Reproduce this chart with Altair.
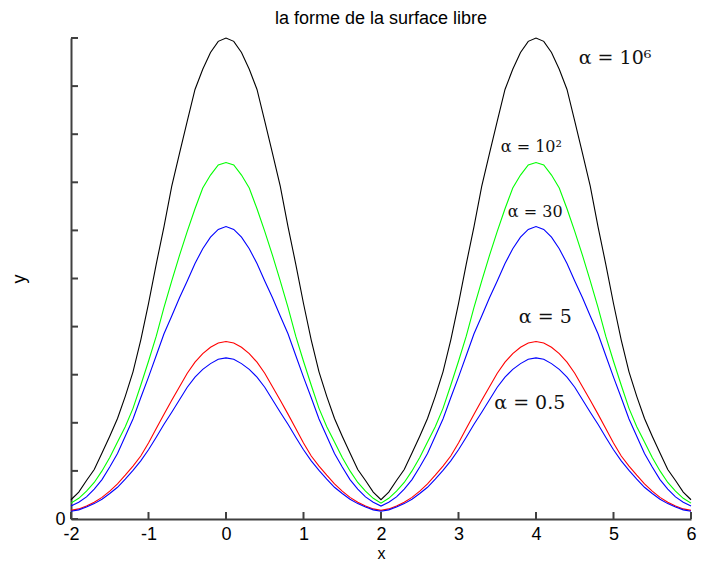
import altair as alt
import pandas as pd

# sample positions along x (step 0.1 from -2 to 6)
x_vals = [round(-2 + 0.1 * i, 1) for i in range(81)]

# alpha = 1e6 (black)
y_a1e6 = [0.40, 0.56, 0.80, 1.03, 1.37, 1.72, 2.09, 2.55, 3.06, 3.72, 4.48, 5.30, 6.08, 6.92, 7.60, 8.27, 8.93, 9.35, 9.70, 9.93, 10.0,
          9.93, 9.70, 9.35, 8.93, 8.27, 7.60, 6.92, 6.08, 5.30, 4.48, 3.72, 3.06, 2.55, 2.09, 1.72, 1.37, 1.03, 0.80, 0.56, 0.40,
          0.56, 0.80, 1.03, 1.37, 1.72, 2.09, 2.55, 3.06, 3.72, 4.48, 5.30, 6.08, 6.92, 7.60, 8.27, 8.93, 9.35, 9.70, 9.93, 10.0,
          9.93, 9.70, 9.35, 8.93, 8.27, 7.60, 6.92, 6.08, 5.30, 4.48, 3.72, 3.06, 2.55, 2.09, 1.72, 1.37, 1.03, 0.80, 0.56, 0.40]
# alpha = 1e2 (green)
y_a1e2 = [0.33, 0.43, 0.58, 0.76, 1.00, 1.28, 1.60, 1.92, 2.30, 2.78, 3.28, 3.80, 4.40, 4.95, 5.48, 5.98, 6.45, 6.88, 7.15, 7.36, 7.41,
          7.36, 7.15, 6.88, 6.45, 5.98, 5.48, 4.95, 4.40, 3.80, 3.28, 2.78, 2.30, 1.92, 1.60, 1.28, 1.00, 0.76, 0.58, 0.43, 0.33,
          0.43, 0.58, 0.76, 1.00, 1.28, 1.60, 1.92, 2.30, 2.78, 3.28, 3.80, 4.40, 4.95, 5.48, 5.98, 6.45, 6.88, 7.15, 7.36, 7.41,
          7.36, 7.15, 6.88, 6.45, 5.98, 5.48, 4.95, 4.40, 3.80, 3.28, 2.78, 2.30, 1.92, 1.60, 1.28, 1.00, 0.76, 0.58, 0.43, 0.33]
# alpha = 30 (blue)
y_a30 = [0.27, 0.35, 0.46, 0.62, 0.82, 1.08, 1.36, 1.72, 2.08, 2.52, 2.95, 3.40, 3.85, 4.22, 4.60, 4.95, 5.31, 5.62, 5.86, 6.02, 6.08,
         6.02, 5.86, 5.62, 5.31, 4.95, 4.60, 4.22, 3.85, 3.40, 2.95, 2.52, 2.08, 1.72, 1.36, 1.08, 0.82, 0.62, 0.46, 0.35, 0.27,
         0.35, 0.46, 0.62, 0.82, 1.08, 1.36, 1.72, 2.08, 2.52, 2.95, 3.40, 3.85, 4.22, 4.60, 4.95, 5.31, 5.62, 5.86, 6.02, 6.08,
         6.02, 5.86, 5.62, 5.31, 4.95, 4.60, 4.22, 3.85, 3.40, 2.95, 2.52, 2.08, 1.72, 1.36, 1.08, 0.82, 0.62, 0.46, 0.35, 0.27]
# alpha = 5 (red)
y_a5 = [0.18, 0.21, 0.27, 0.35, 0.45, 0.58, 0.73, 0.91, 1.10, 1.31, 1.58, 1.88, 2.18, 2.47, 2.75, 3.03, 3.26, 3.44, 3.57, 3.66, 3.69,
        3.66, 3.57, 3.44, 3.26, 3.03, 2.75, 2.47, 2.18, 1.88, 1.58, 1.31, 1.10, 0.91, 0.73, 0.58, 0.45, 0.35, 0.27, 0.21, 0.18,
        0.21, 0.27, 0.35, 0.45, 0.58, 0.73, 0.91, 1.10, 1.31, 1.58, 1.88, 2.18, 2.47, 2.75, 3.03, 3.26, 3.44, 3.57, 3.66, 3.69,
        3.66, 3.57, 3.44, 3.26, 3.03, 2.75, 2.47, 2.18, 1.88, 1.58, 1.31, 1.10, 0.91, 0.73, 0.58, 0.45, 0.35, 0.27, 0.21, 0.18]
# alpha = 0.5 (blue)
y_a05 = [0.16, 0.19, 0.25, 0.32, 0.41, 0.53, 0.66, 0.83, 1.01, 1.21, 1.44, 1.70, 1.97, 2.22, 2.48, 2.74, 2.95, 3.11, 3.23, 3.32, 3.35,
         3.32, 3.23, 3.11, 2.95, 2.74, 2.48, 2.22, 1.97, 1.70, 1.44, 1.21, 1.01, 0.83, 0.66, 0.53, 0.41, 0.32, 0.25, 0.19, 0.16,
         0.19, 0.25, 0.32, 0.41, 0.53, 0.66, 0.83, 1.01, 1.21, 1.44, 1.70, 1.97, 2.22, 2.48, 2.74, 2.95, 3.11, 3.23, 3.32, 3.35,
         3.32, 3.23, 3.11, 2.95, 2.74, 2.48, 2.22, 1.97, 1.70, 1.44, 1.21, 1.01, 0.83, 0.66, 0.53, 0.41, 0.32, 0.25, 0.19, 0.16]

series_names = ["a1e6", "a1e2", "a30", "a5", "a05"]
series_colors = ["#000000", "#00ff00", "#0000ff", "#ff0000", "#0000ff"]

# annotations (data coordinates)
big_text = ["α = 10⁶", "α = 5", "α = 0.5"]
big_x = [5.02, 4.12, 3.92]
big_y = [9.58, 4.20, 2.41]
small_text = ["α = 10²", "α = 30"]
small_x = [3.94, 3.99]
small_y = [7.73, 6.38]

x_ticks = [-2, -1, 0, 1, 2, 3, 4, 5, 6]
y_ticks = [0, 1, 2, 3, 4, 5, 6, 7, 8, 9, 10]

rows = []
for name, ys in zip(series_names, [y_a1e6, y_a1e2, y_a30, y_a5, y_a05]):
    for xv, yv in zip(x_vals, ys):
        rows.append({"x": xv, "y": yv, "s": name})
df = pd.DataFrame(rows)

W, H = 620, 481
xscale = alt.Scale(domain=[-2, 6], nice=False, zero=False)
yscale = alt.Scale(domain=[0, 10], nice=False, zero=False)

xaxis = alt.Axis(values=x_ticks, labelExpr="'' + datum.value", labelPadding=6,
                 labelFlush=False, labelOverlap=False, title="x", titleFontSize=16,
                 titleX=W / 2, titleY=39.5, titleBaseline="alphabetic", titleAlign="center")
yaxis = alt.Axis(values=[0], labelPadding=6, labelFlush=False, title="y",
                 titleX=-47, titleY=H / 2, titleBaseline="alphabetic", titleAlign="center",
                 titleAngle=270)

lines = alt.Chart(df).mark_line(strokeWidth=1.1).encode(
    x=alt.X("x:Q", scale=xscale, axis=xaxis),
    y=alt.Y("y:Q", scale=yscale, axis=yaxis),
    color=alt.Color("s:N", scale=alt.Scale(domain=series_names, range=series_colors), legend=None),
    detail="s:N",
)

big = alt.Chart(pd.DataFrame({"x": big_x, "y": big_y, "t": big_text})).mark_text(
    font="DejaVu Serif", fontSize=19, color="#111111", align="center", baseline="middle"
).encode(x=alt.X("x:Q", scale=xscale, axis=xaxis), y=alt.Y("y:Q", scale=yscale, axis=yaxis), text="t:N")

small = alt.Chart(pd.DataFrame({"x": small_x, "y": small_y, "t": small_text})).mark_text(
    font="DejaVu Serif", fontSize=16, color="#111111", align="center", baseline="middle"
).encode(x=alt.X("x:Q", scale=xscale, axis=xaxis), y=alt.Y("y:Q", scale=yscale, axis=yaxis), text="t:N")

xt = alt.Chart(pd.DataFrame({"x": x_ticks})).mark_rule(color="#404040", strokeWidth=2).encode(
    x=alt.X("x:Q", scale=xscale, axis=xaxis), y=alt.value(H), y2=alt.value(H - 7))

yt = alt.Chart(pd.DataFrame({"y": y_ticks})).mark_rule(color="#404040", strokeWidth=2).encode(
    y=alt.Y("y:Q", scale=yscale, axis=yaxis), x=alt.value(0), x2=alt.value(7))

chart = alt.layer(lines, big, small, xt, yt).properties(
    width=W, height=H,
    autosize=alt.AutoSizeParams(type="none"),
    padding={"left": 63, "top": 30, "right": 6, "bottom": 43},
    title=alt.Title("la forme de la surface libre", fontSize=18, font="Liberation Sans",
                    fontWeight="normal", color="#000000", anchor="middle", frame="group", dy=-4),
).configure_view(stroke=None).configure_axis(
    domainColor="#404040", domainWidth=2, ticks=False, tickSize=0, grid=False,
    labelFont="Liberation Sans", labelFontSize=18, labelColor="#000000",
    titleFont="Liberation Sans", titleFontSize=18, titleFontWeight="normal", titleColor="#000000",
)

chart.save("out.html", embed_options={"renderer": "svg", "actions": False})
